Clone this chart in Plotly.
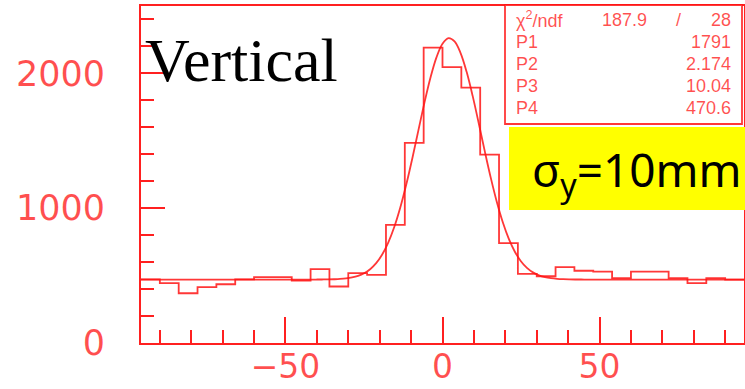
import numpy as np
import plotly.graph_objects as go

# Vertical beam profile: 32 bins of 6 mm between -96 and 96 mm
bin_low, bin_high, n_bins = -96.0, 96.0, 32
bin_edges = np.linspace(bin_low, bin_high, n_bins + 1)
counts = [472, 444, 369, 414, 436, 472, 488, 488, 463, 548, 419, 518, 506,
          877, 1485, 2191, 2047, 1894, 1398, 741, 513, 495, 563, 536, 530,
          481, 530, 530, 481, 444, 481, 470]

# Gaussian + constant fit: P1*exp(-0.5*((x-P2)/P3)^2) + P4
p1, p2, p3, p4 = 1791.0, 2.174, 10.04, 470.6
chi2, ndf = 187.9, 28
param_names = ["P1", "P2", "P3", "P4"]
param_text = ["1791", "2.174", "10.04", "470.6"]

x_ticks_major, x_ticks_minor = 50, 10
y_ticks_major, y_ticks_minor = 1000, 200
y_max = 2500

RED = "#ff2020"
LINE_RED = "rgba(255,20,20,0.85)"
TXT_RED = "rgba(255,30,30,0.78)"

# plot-area pixel geometry, used to place the overlays
W, H = 745, 389
L, R, T, B = 141, 744, 6, 343


def px(x):
    return (x - L) / (R - L)


def py(y):
    return (B - y) / (B - T)


x_fit = np.linspace(bin_low, bin_high, 101)
y_fit = p1 * np.exp(-0.5 * ((x_fit - p2) / p3) ** 2) + p4

fig = go.Figure()
fig.add_trace(go.Scatter(
    x=bin_edges, y=counts + [counts[-1]], mode="lines",
    line=dict(color=LINE_RED, width=1.8, shape="hv"),
    hoverinfo="skip", showlegend=False))
fig.add_trace(go.Scatter(
    x=x_fit, y=y_fit, mode="lines",
    line=dict(color=LINE_RED, width=1.8, shape="spline"),
    hoverinfo="skip", showlegend=False))

font_family = "DejaVu Sans, Liberation Sans, sans-serif"

fig.update_xaxes(
    range=[bin_low, bin_high], tickmode="linear", tick0=0, dtick=x_ticks_major,
    ticks="inside", ticklen=26, tickwidth=1.5, tickcolor=RED,
    showline=True, linecolor=RED, linewidth=2, mirror=True, automargin=False,
    showgrid=False, zeroline=False,
    tickfont=dict(family=font_family, size=33, color=TXT_RED), ticklabelstandoff=-7,
    minor=dict(tick0=0, dtick=x_ticks_minor, ticks="inside", ticklen=13,
               tickwidth=1.5, tickcolor=RED, showgrid=False))
fig.update_yaxes(
    range=[0, y_max], tickmode="linear", tick0=0, dtick=y_ticks_major,
    ticks="inside", ticklen=24, tickwidth=1.5, tickcolor=RED,
    showline=True, linecolor=RED, linewidth=2, mirror=True, automargin=False,
    showgrid=False, zeroline=False,
    tickfont=dict(family=font_family, size=35, color=TXT_RED), ticklabelstandoff=27,
    minor=dict(tick0=0, dtick=y_ticks_minor, ticks="inside", ticklen=13,
               tickwidth=1.5, tickcolor=RED, showgrid=False))

shapes = [
    # statistics box
    dict(type="rect", xref="paper", yref="paper",
         x0=px(505), x1=px(742), y0=py(124), y1=py(5),
         fillcolor="white", line=dict(color=LINE_RED, width=1.8), layer="above"),
    # highlight box for the fitted width
    dict(type="rect", xref="paper", yref="paper",
         x0=px(509), x1=px(746), y0=py(210), y1=py(127),
         fillcolor="#ffff00", line=dict(width=0), layer="above"),
]

stat_font = dict(family="Liberation Sans, Arial, sans-serif", size=18, color=TXT_RED)
annotations = []
row_y = [20, 42, 64, 86, 108]
annotations.append(dict(text="χ<sup>2</sup>/ndf", x=px(514), y=py(row_y[0]),
                        xanchor="left", yanchor="middle"))
annotations.append(dict(text=f"{chi2:.1f}", x=px(649), y=py(row_y[0]),
                        xanchor="right", yanchor="middle"))
annotations.append(dict(text="/", x=px(678), y=py(row_y[0]),
                        xanchor="center", yanchor="middle"))
annotations.append(dict(text=f"{ndf}", x=px(733), y=py(row_y[0]),
                        xanchor="right", yanchor="middle"))
for name, val, yy in zip(param_names, param_text, row_y[1:]):
    annotations.append(dict(text=name, x=px(514), y=py(yy),
                            xanchor="left", yanchor="middle"))
    annotations.append(dict(text=val, x=px(733), y=py(yy),
                            xanchor="right", yanchor="middle"))
for a in annotations:
    a.update(xref="paper", yref="paper", showarrow=False, font=stat_font)

annotations.append(dict(
    text="Vertical", xref="paper", yref="paper", x=px(143), y=py(60),
    xanchor="left", yanchor="middle", showarrow=False,
    font=dict(family="Liberation Serif, Times New Roman, serif", size=62, color="black")))
annotations.append(dict(
    text="σ<sub>y</sub>=10mm", xref="paper", yref="paper", x=px(530), y=py(172),
    xanchor="left", yanchor="middle", showarrow=False,
    font=dict(family="Noto Sans, sans-serif", size=46, color="black")))

fig.update_layout(
    width=W, height=H,
    margin=dict(l=L, r=W - R, t=T, b=H - B, pad=0, autoexpand=False),
    paper_bgcolor="white", plot_bgcolor="white",
    shapes=shapes, annotations=annotations,
    showlegend=False,
)

fig.write_html("out.html")
